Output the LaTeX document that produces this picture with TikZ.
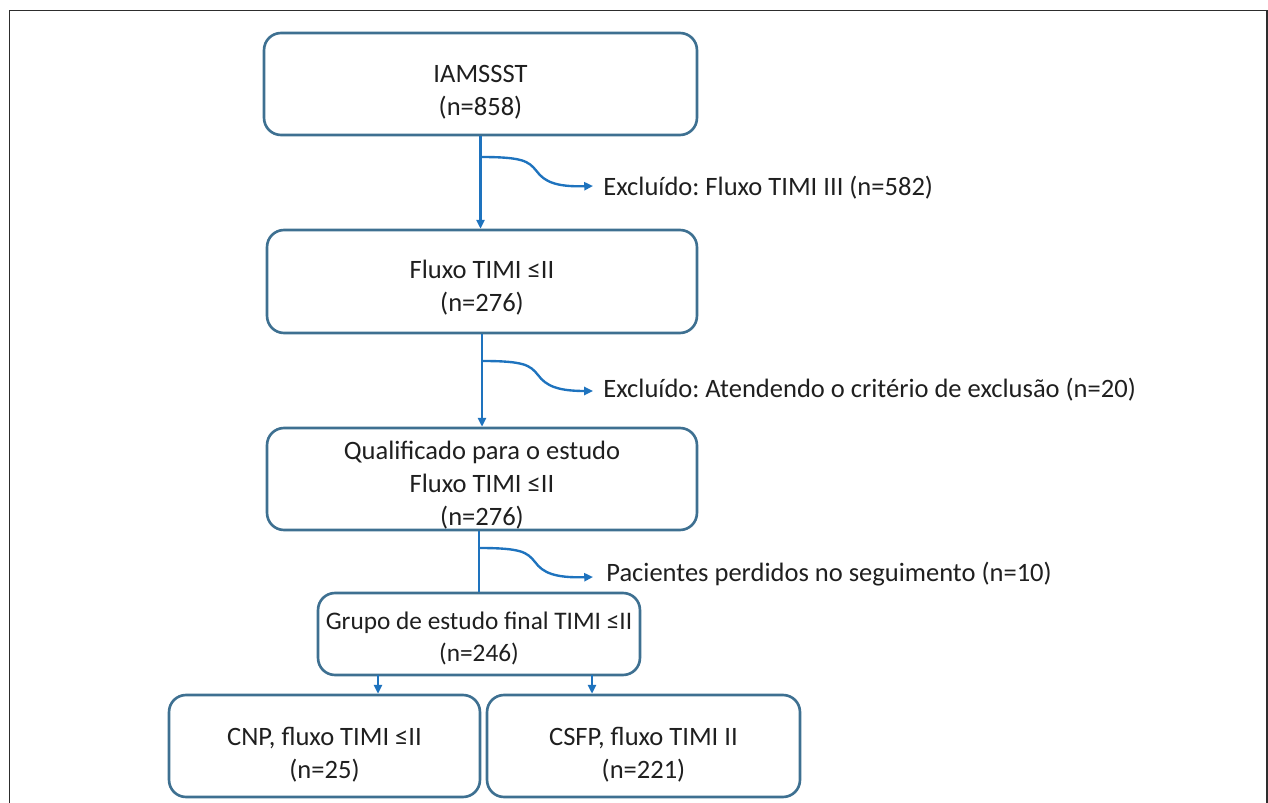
\documentclass[tikz,border=0pt]{standalone}
\usepackage{fontspec}
\setmainfont{Carlito}
\frenchspacing
\usetikzlibrary{arrows.meta,calc}

\definecolor{boxcol}{RGB}{62,112,145}
\definecolor{linkcol}{RGB}{30,115,190}
\definecolor{framecol}{RGB}{45,45,45}

\begin{document}
\begin{tikzpicture}[x=0.02cm,y=-0.02cm,
  every node/.style={font=\fontsize{15.1pt}{18.6pt}\selectfont, text=black!88},
  stage/.style={draw=boxcol, line width=1.5pt, rounded corners=0.34cm, inner sep=0pt},
  stagetext/.style={align=center, inner sep=0pt, yshift=-0.12cm},
  conn/.style={draw=linkcol, line width=1.35pt},
  tip/.style={-{Triangle[length=5pt,width=4.6pt]}},
  branch/.style={conn, tip, to path={
    .. controls ($(\tikztostart)+(42,0)$) and ($(\tikztostart)+(48,4)$)
    .. ($(\tikztostart)+(56,14)$)
    .. controls ($(\tikztostart)+(64,25)$) and ($(\tikztostart)+(76,30)$)
    .. (\tikztotarget)}},
  note/.style={anchor=base west, inner sep=0pt}
]
\useasboundingbox (0,0) rectangle (1268,803);

% outer frame, open at the bottom
\draw[framecol, line width=0.9pt] (9.5,803) -- (9.5,10.5) -- (1267,10.5) -- (1267,803);

% stages of the flow
\node[stage, minimum width=8.66cm, minimum height=2.04cm] (s1) at (480.5,84) {};
\node[stagetext, yshift=-0.04cm] (t1) at (s1.center) {IAMSSST\\(n=858)};
\node[stage, minimum width=8.60cm, minimum height=2.06cm] (s2) at (482,281.5) {};
\node[stagetext] (t2) at (s2.center) {Fluxo TIMI ≤II\\(n=276)};
\node[stage, minimum width=8.60cm, minimum height=2.04cm] (s3) at (482,479) {};
\node[stagetext] (t3) at (s3.center) {Qualificado para o estudo\\Fluxo TIMI ≤II\\(n=276)};
\node[stage, minimum width=6.44cm, minimum height=1.64cm] (s4) at (479,634) {};
\node[stagetext, yshift=0.04cm, font=\fontsize{14.4pt}{18.2pt}\selectfont] (t4) at (s4.center)
  {Grupo de estudo final TIMI ≤II\\(n=246)};
\node[stage, minimum width=6.22cm, minimum height=2.04cm] (s5) at (324.5,746) {};
\node[stagetext, yshift=-0.06cm] (t5) at (s5.center) {CNP, fluxo TIMI ≤II\\(n=25)};
\node[stage, minimum width=6.26cm, minimum height=2.04cm] (s6) at (643.5,746) {};
\node[stagetext, yshift=-0.06cm] (t6) at (s6.center) {CSFP, fluxo TIMI II\\(n=221)};

% exclusion notes
\node[note] (e1) at (603,196) {Excluído: Fluxo TIMI III (n=582)};
\node[note] (e2) at (603,398) {Excluído: Atendendo o critério de exclusão (n=20)};
\node[note] (e3) at (606,582) {Pacientes perdidos no seguimento (n=10)};

% main vertical connectors
\draw[conn, tip] (s1.south) -- (s1.south |- s2.north);
\draw[conn, tip] (s2.south) -- (s2.south |- s3.north);
\draw[conn] (s4.north |- s3.south) -- (s4.north);
\draw[conn, tip] (378,675) coordinate (d1) -- (d1 |- s5.north);
\draw[conn, tip] (592,675) coordinate (d2) -- (d2 |- s6.north);

% branch points and side arrows
\coordinate (b1) at (s1.south |- 0,157);
\coordinate (b2) at (s2.south |- 0,361);
\coordinate (b3) at (s4.north |- 0,548);
\draw[branch] (b1) to ([xshift=-0.2cm]e1.west |- 0,186);
\draw[branch] (b2) to ([xshift=-0.2cm]e2.west |- 0,391);
\draw[branch] (b3) to ([xshift=-0.26cm]e3.west |- 0,577);
\end{tikzpicture}
\end{document}
